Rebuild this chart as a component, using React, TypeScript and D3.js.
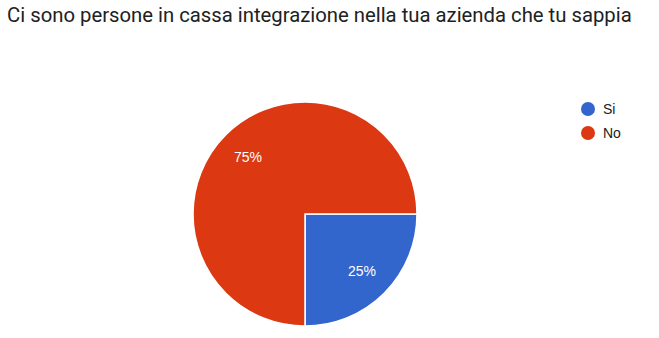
import React, { useEffect, useRef } from "react";
import * as d3 from "d3";

const title = "Ci sono persone in cassa integrazione nella tua azienda che tu sappia";
const categories = ["Si", "No"];
const values = [25, 75];
const colors = ["#3366cc", "#dc3912"];

export default function App() {
  const ref = useRef<SVGSVGElement>(null);
  useEffect(() => {
    const svg = d3.select(ref.current);
    svg.selectAll("*").remove();
    const W = 659, H = 338;
    svg.append("rect").attr("width", W).attr("height", H).attr("fill", "#fff");
    svg.append("text").attr("x", 7).attr("y", 22)
      .attr("font-family", "Roboto").attr("font-size", 20.3).attr("fill", "#212121")
      .text(title);
    const cx = 305, cy = 214, r = 112;
    const total = d3.sum(values);
    const pie = d3.pie<number>().sort(null).startAngle(Math.PI / 2).endAngle(Math.PI / 2 + 2 * Math.PI);
    const arcs = pie(values);
    const arc = d3.arc<d3.PieArcDatum<number>>().innerRadius(0).outerRadius(r);
    const labelArc = d3.arc<d3.PieArcDatum<number>>().innerRadius(r * 0.72).outerRadius(r * 0.72);
    const g = svg.append("g").attr("transform", `translate(${cx},${cy})`);
    g.selectAll("path").data(arcs).enter().append("path")
      .attr("d", arc).attr("fill", (_, i) => colors[i])
      .attr("stroke", "#fff").attr("stroke-width", 1.5);
    g.selectAll("text.lbl").data(arcs).enter().append("text")
      .attr("class", "lbl")
      .attr("transform", d => `translate(${labelArc.centroid(d)})`)
      .attr("text-anchor", "middle").attr("dy", "0.35em")
      .attr("font-family", "Arial, 'Liberation Sans'").attr("font-size", 14).attr("fill", "#fff")
      .text(d => `${Math.round((d.data / total) * 100)}%`);
    const lg = svg.append("g");
    categories.forEach((c, i) => {
      const y = 109 + i * 24;
      lg.append("circle").attr("cx", 588).attr("cy", y).attr("r", 7).attr("fill", colors[i]);
      lg.append("text").attr("x", 603).attr("y", y).attr("dy", "0.35em")
        .attr("font-family", "Arial, 'Liberation Sans'").attr("font-size", 14).attr("fill", "#222")
        .text(c);
    });
  }, []);
  return (
    <svg ref={ref} width={659} height={338} style={{ position: "absolute", left: 0, top: 0 }} />
  );
}
